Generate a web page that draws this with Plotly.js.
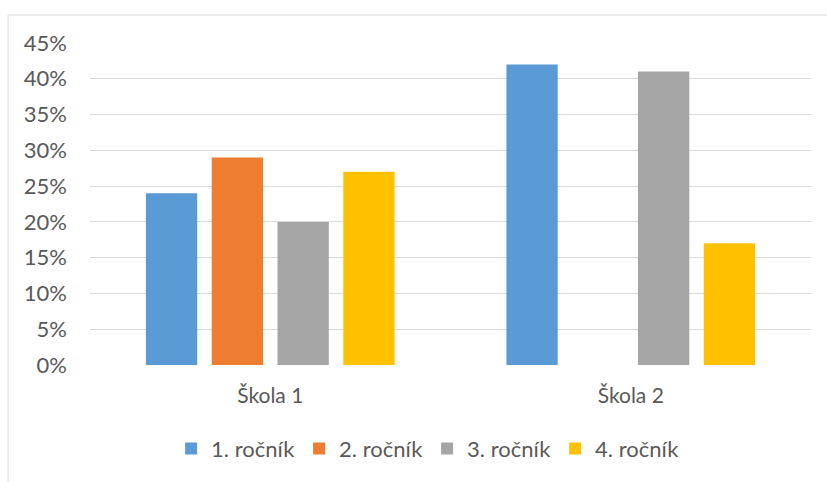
<!DOCTYPE html>
<html>
<head>
<meta charset="utf-8">
<script src="https://cdn.plot.ly/plotly-3.0.1.min.js"></script>
<style>
  body { margin: 0; background: #fff; }
  #chart { width: 827px; height: 482px; }
</style>
</head>
<body>
<div id="chart"></div>
<script>
const skoly = ['Škola 1', 'Škola 2'];
const rocniky = ['1. ročník', '2. ročník', '3. ročník', '4. ročník'];
const rocnik1 = [0.24, 0.42];
const rocnik2 = [0.29, null];
const rocnik3 = [0.20, 0.41];
const rocnik4 = [0.27, 0.17];
const yTicks = [0, 0.05, 0.10, 0.15, 0.20, 0.25, 0.30, 0.35, 0.40, 0.45];

const barvy = ['#5B9BD5', '#ED7D31', '#A5A5A5', '#FFC000'];
const serie = [rocnik1, rocnik2, rocnik3, rocnik4];

let data = serie.map((vals, i) => ({
    type: 'bar',
    name: rocniky[i],
    x: skoly,
    y: vals,
    marker: { color: barvy[i] }
}));

let layout = {
    width: 827,
    height: 482,
    margin: { l: 90, r: 16, t: 43, b: 117 },
    paper_bgcolor: '#fff',
    plot_bgcolor: '#fff',
    font: { family: 'Lato, sans-serif', size: 22, color: '#595959' },
    barmode: 'group',
    bargap: 0.27,
    bargroupgap: 0.22,
    showlegend: true,
    legend: {
        orientation: 'h',
        x: 0.1125, xanchor: 'left',
        y: -0.195, yanchor: 'top',
        font: { size: 22 },
        entrywidth: 83
    },
    xaxis: {
        showgrid: false,
        showline: false,
        ticks: '',
        tickfont: { size: 21 },
        ticklabelstandoff: 16
    },
    yaxis: {
        range: [0, 0.45],
        tickvals: yTicks,
        tickformat: '.0%',
        tickfont: { size: 22 },
        gridcolor: '#D9D9D9',
        gridwidth: 1,
        zeroline: false,
        showline: false,
        ticks: '',
        ticklabelstandoff: 22
    },
    shapes: [{
        type: 'rect',
        xref: 'paper', yref: 'paper',
        x0: -0.1137, x1: 1.2, y0: -1, y1: 1.087,
        line: { color: '#D9D9D9', width: 1 }
    }]
};

Plotly.newPlot('chart', data, layout, { displayModeBar: false });
</script>
</body>
</html>
